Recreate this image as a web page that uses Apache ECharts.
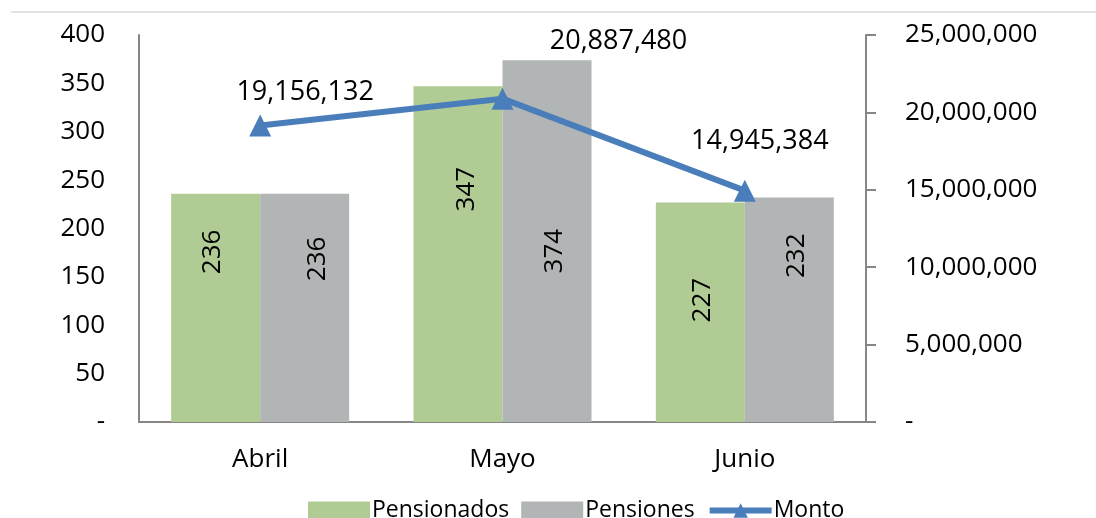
<!DOCTYPE html>
<html>
<head>
    <meta charset="UTF-8">
    <script src="https://cdn.jsdelivr.net/npm/echarts@6/dist/echarts.min.js"></script>
    <style>
        html, body { margin: 0; padding: 0; background: #fff; }
        #chart { width: 1096px; height: 518px; }
    </style>
</head>
<body>
    <div id="chart"></div>
    <script>
        // data
        var meses = ['Abril', 'Mayo', 'Junio'];
        var pensionados = [236, 347, 227];
        var pensiones = [236, 374, 232];
        var monto = [19156132, 20887480, 14945384];
        // label offsets on screen (layout only, pixels)
        var montoOffsets = [[45, -33], [116, -57], [15, -49]];
        var pensionadosOffsets = [[-3, -56], [9, -65], [2, -12]];
        var pensionesOffsets = [[13, -49], [8, 10], [7, -54]];

        var FONT = 'Open Sans';
        var fmt = function (v) {
            return v === 0 ? '-' : v.toString().replace(/\B(?=(\d{3})+(?!\d))/g, ',');
        };

        var chart = echarts.init(document.getElementById('chart'), null, { renderer: 'canvas' });

        var barLabel = {
            show: true,
            position: 'inside',
            rotate: 90,
            fontSize: 26,
            fontFamily: FONT,
            color: '#000'
        };

        function withOffsets(values, offsets, rotated) {
            return values.map(function (v, i) {
                var o = offsets[i];
                // rotated labels take their offset in the text's own frame
                var off = rotated ? [-o[1], o[0]] : o;
                return { value: v, label: { offset: off } };
            });
        }

        var option = {
            backgroundColor: '#fff',
            animation: false,
            textStyle: { fontFamily: FONT },
            graphic: [{
                type: 'line',
                shape: { x1: 11, y1: 12, x2: 1096, y2: 12 },
                style: { stroke: '#c8c8c8', lineWidth: 1 }
            }],
            grid: { left: 139, right: 230, top: 35, bottom: 96 },
            legend: {
                top: 494,
                left: 303,
                itemWidth: 62,
                itemHeight: 18,
                itemGap: 12,
                textStyle: { fontSize: 23, fontFamily: FONT, color: '#000', padding: [0, 0, 0, -3] },
                data: [
                    { name: 'Pensionados', icon: 'rect' },
                    { name: 'Pensiones', icon: 'rect' },
                    { name: 'Monto', lineStyle: { width: 6 } }
                ]
            },
            xAxis: {
                type: 'category',
                data: meses,
                axisLine: { lineStyle: { color: '#868686', width: 2 } },
                axisTick: { show: false },
                axisLabel: { fontSize: 26, color: '#000', margin: 25, fontFamily: FONT }
            },
            yAxis: [{
                type: 'value',
                min: 0, max: 400, interval: 50,
                axisLine: { show: true, lineStyle: { color: '#868686', width: 2 } },
                axisTick: { show: false },
                splitLine: { show: false },
                axisLabel: { fontSize: 26, color: '#000', margin: 34, formatter: fmt, fontFamily: FONT }
            }, {
                type: 'value',
                min: 0, max: 25000000, interval: 5000000,
                axisLine: { show: true, lineStyle: { color: '#868686', width: 2 } },
                axisTick: { show: true, inside: false, length: 10, lineStyle: { color: '#868686', width: 2 } },
                splitLine: { show: false },
                axisLabel: { fontSize: 26, color: '#000', margin: 39, formatter: fmt, fontFamily: FONT }
            }],
            series: [{
                name: 'Pensionados',
                type: 'bar',
                data: withOffsets(pensionados, pensionadosOffsets, true),
                barWidth: 89,
                barGap: '0%',
                itemStyle: { color: '#b1cb95' },
                label: barLabel
            }, {
                name: 'Pensiones',
                type: 'bar',
                data: withOffsets(pensiones, pensionesOffsets, true),
                barWidth: 89,
                barGap: '0%',
                itemStyle: { color: '#b2b5b5' },
                label: barLabel
            }, {
                name: 'Monto',
                type: 'line',
                yAxisIndex: 1,
                data: withOffsets(monto, montoOffsets, false),
                symbol: 'triangle',
                symbolSize: 22,
                lineStyle: { color: '#4a7ebb', width: 6 },
                itemStyle: { color: '#4a7ebb' },
                label: {
                    show: true,
                    position: 'inside',
                    fontSize: 27,
                    fontFamily: FONT,
                    color: '#000',
                    formatter: function (p) { return fmt(p.value); }
                },
                z: 5
            }]
        };

        chart.setOption(option);
        window.addEventListener('resize', chart.resize);
    </script>
</body>
</html>
